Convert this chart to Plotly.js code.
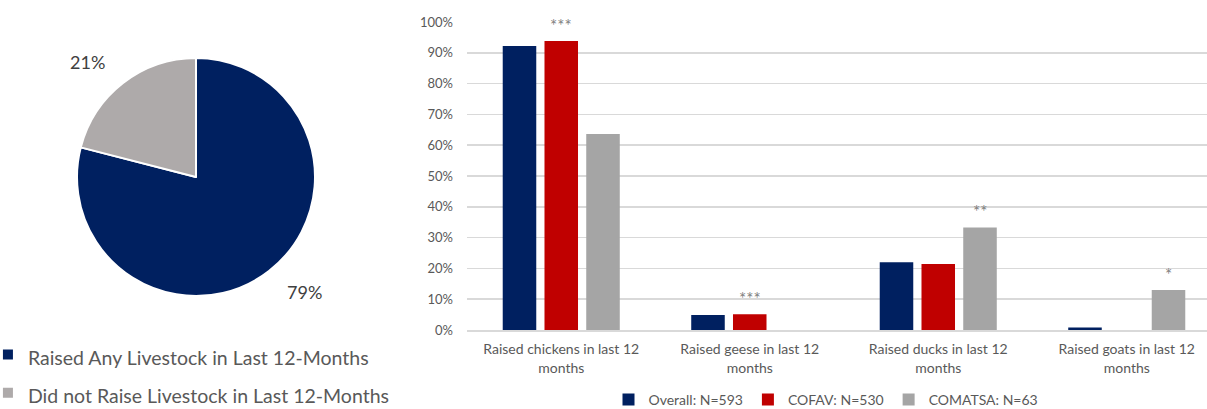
<!DOCTYPE html>
<html>
<head>
<meta charset="utf-8">
<script src="https://cdn.plot.ly/plotly-3.0.1.min.js"></script>
<style>
  html, body { margin: 0; padding: 0; background: #ffffff; }
  #chart { width: 1207px; height: 409px; }
</style>
</head>
<body>
<div id="chart"></div>
<script>
// ---- Livestock share (pie) ----
const pieLabels = ['Raised Any Livestock in Last 12-Months', 'Did not Raise Livestock in Last 12-Months'];
const pieValues = [79, 21];
const pieColors = ['#002060', '#AEAAAA'];

// ---- Animals raised by group (bars) ----
const categories = [
  'Raised chickens in last 12<br>months',
  'Raised geese in last 12<br>months',
  'Raised ducks in last 12<br>months',
  'Raised goats in last 12<br>months'
];
const seriesNames = ['Overall: N=593', 'COFAV: N=530', 'COMATSA: N=63'];
const overallVals = [92.2, 4.9, 22.0, 0.8];
const cofavVals   = [93.8, 5.1, 21.4, 0];
const comatsaVals = [63.6, 0, 33.3, 13.0];
const seriesColors = ['#002060', '#C00000', '#A5A5A5'];

// significance markers: text and which series (0,1,2) they sit above
const sigLabels = ['***', '***', '**', '*'];
const sigSeries = [1, 1, 2, 2];

const W = 1207, H = 409;
const textGrey = '#595959';
const FONT = 'Lato, "Open Sans", sans-serif';

// pie geometry (pixels)
const pieCx = 196, pieCy = 177, pieR = 119;
const px = v => v / W;
const py = v => 1 - v / H;

const traces = [];

traces.push({
  type: 'pie',
  labels: pieLabels.map(l => '<span style="font-size:19.5px">' + l + '</span>'),
  values: pieValues,
  sort: false,
  direction: 'clockwise',
  rotation: 0,
  marker: { colors: pieColors, line: { color: '#ffffff', width: 2 } },
  textinfo: 'none',
  hoverinfo: 'label+percent',
  domain: { x: [px(pieCx - pieR), px(pieCx + pieR)], y: [py(pieCy + pieR), py(pieCy - pieR)] },
  legend: 'legend2',
  showlegend: true
});

const seriesVals = [overallVals, cofavVals, comatsaVals];
seriesVals.forEach((vals, i) => {
  traces.push({
    type: 'bar',
    name: seriesNames[i],
    x: categories,
    y: vals,
    marker: { color: seriesColors[i] },
    xaxis: 'x',
    yaxis: 'y',
    legend: 'legend'
  });
});

// pie value labels placed outside each slice, at its mid angle
const annotations = [];
const total = pieValues.reduce((a, b) => a + b, 0);
let cum = 0;
const labelR = 145;
pieValues.forEach(v => {
  const mid = (cum + v / 2) / total * 2 * Math.PI;
  cum += v;
  const s = Math.sin(mid), c = Math.cos(mid);
  annotations.push({
    xref: 'paper', yref: 'paper',
    x: px(pieCx + labelR * s), y: py(pieCy - labelR * c),
    text: Math.round(v / total * 100) + '%', showarrow: false,
    xanchor: s < 0 ? 'right' : 'left',
    yanchor: 'middle',
    font: { family: FONT, size: 18, color: '#404040' }
  });
});

// significance stars above bars
const bargap = 0.3355, bargroupgap = 0.197;
const slot = (1 - bargap) / 3;
sigLabels.forEach((s, c) => {
  const si = sigSeries[c];
  annotations.push({
    xref: 'x', yref: 'y',
    x: c + (si - 1) * slot,
    y: seriesVals[si][c],
    text: s, showarrow: false,
    xanchor: 'center', yanchor: 'bottom', yshift: 3,
    font: { family: FONT, size: 17, color: '#7F7F7F' }
  });
});

// plot area in pixels: x 467..1207, y 22 (100%)..330 (0%)
const layout = {
  width: W, height: H,
  margin: { l: 0, r: 0, t: 0, b: 0, autoexpand: false },
  paper_bgcolor: '#ffffff', plot_bgcolor: '#ffffff',
  font: { family: FONT, color: textGrey },
  barmode: 'group',
  bargap: bargap,
  bargroupgap: bargroupgap,
  xaxis: {
    domain: [px(467), 1],
    range: [-0.5, 3.5 - 14 / 188.5],
    tickfont: { family: FONT, size: 14, color: textGrey },
    showgrid: false,
    showline: true, linecolor: '#D9D9D9', linewidth: 1.5,
    ticks: '', ticklabelstandoff: 6, fixedrange: true, automargin: false
  },
  yaxis: {
    domain: [py(330), py(22)],
    range: [0, 100],
    dtick: 10,
    ticksuffix: '%',
    tickfont: { family: FONT, size: 13, color: textGrey },
    showgrid: true, gridcolor: '#D9D9D9', gridwidth: 1.5,
    zeroline: false, showline: false, ticks: '',
    ticklabelstandoff: 13, fixedrange: true, automargin: false
  },
  legend: {
    orientation: 'h',
    x: px(826), xanchor: 'center',
    y: py(400), yanchor: 'middle',
    font: { family: FONT, size: 14, color: textGrey },
    itemwidth: 30,
    bgcolor: 'rgba(0,0,0,0)'
  },
  legend2: {
    orientation: 'v',
    x: -0.01, xanchor: 'left',
    y: py(374), yanchor: 'middle',
    font: { family: FONT, size: 27, color: textGrey },
    itemwidth: 30,
    bgcolor: 'rgba(0,0,0,0)'
  },
  annotations: annotations,
  showlegend: true
};

Plotly.newPlot('chart', traces, layout, { displayModeBar: false, staticPlot: true });
</script>
</body>
</html>
